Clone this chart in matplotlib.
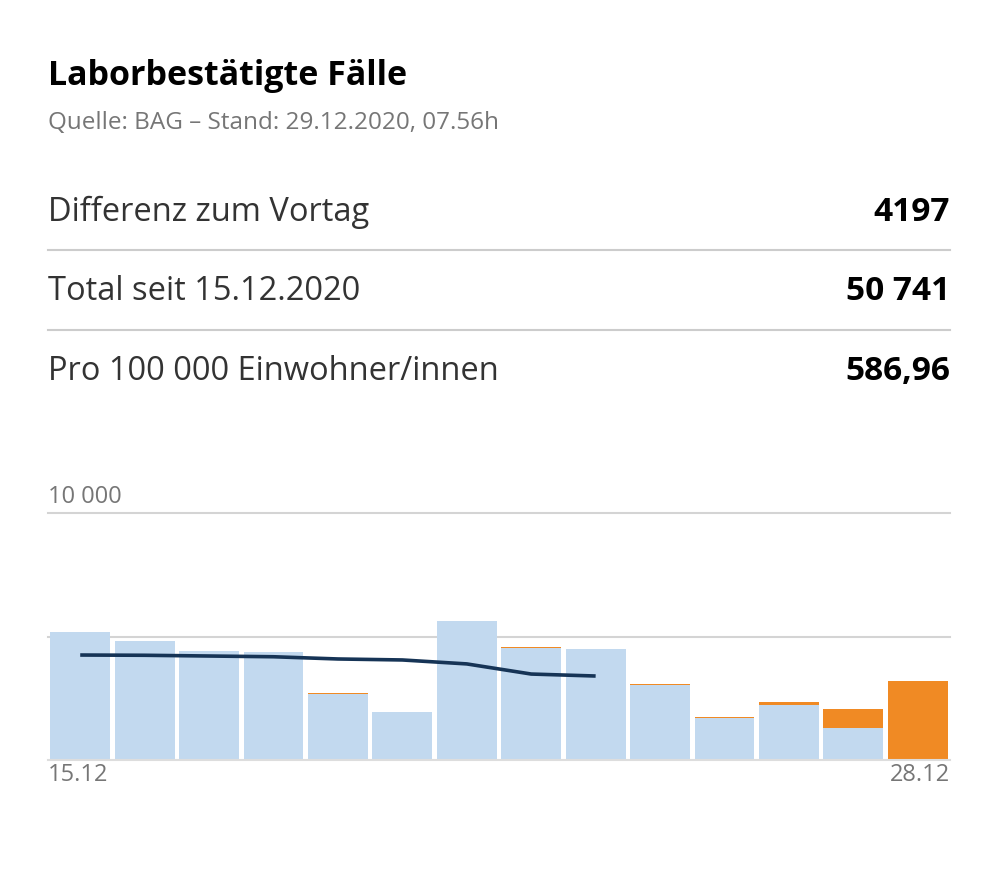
import numpy as np
import matplotlib.pyplot as plt

plt.rcParams['font.family'] = ['Open Sans', 'DejaVu Sans']

# Daten
tage = ['15.12', '16.12', '17.12', '18.12', '19.12', '20.12', '21.12',
        '22.12', '23.12', '24.12', '25.12', '26.12', '27.12', '28.12']
bisher = [5180, 4820, 4410, 4370, 2680, 1940, 5630, 4540, 4490, 3050, 1710, 2230, 1300, 0]
neu = [0, 0, 0, 0, 40, 0, 0, 40, 0, 40, 40, 130, 770, 3200]
mittel7 = [4250, 4240, 4210, 4180, 4090, 4050, 3890, 3480, 3400]

kennzahlen = [('Differenz zum Vortag', '4197'),
              ('Total seit 15.12.2020', '50 741'),
              ('Pro 100 000 Einwohner/innen', '586,96')]

fig = plt.figure(figsize=(10, 8.8), dpi=100)

def fy(py):
    return 1 - py / 880

grau = '#767676'
fig.text(0.048, fy(76), 'Laborbestätigte Fälle', fontsize=24.5, fontweight='bold',
         color='black', va='center')
fig.text(0.048, fy(123), 'Quelle: BAG – Stand: 29.12.2020, 07.56h', fontsize=17.5,
         color=grau, va='center')

zeilen_y = [212, 292, 371]
for (lab, wert), y in zip(kennzahlen, zeilen_y):
    fig.text(0.048, fy(y), lab, fontsize=23.5, color='#333333', va='center')
    fig.text(0.95, fy(y), wert, fontsize=24, fontweight='bold', color='black',
             va='center', ha='right')
for y in [250, 330]:
    fig.add_artist(plt.Line2D([0.048, 0.95], [fy(y), fy(y)], color='#cccccc', lw=1.5))

ax = fig.add_axes([0.048, fy(760), 0.902, fy(513) - fy(760)])
x = np.arange(len(tage))
for g in [5000, 10000]:
    ax.axhline(g, color='#d4d4d4', lw=1.5, zorder=0, clip_on=False)
ax.axhline(0, color='#dddddd', lw=1.5, zorder=3, clip_on=False)
ax.bar(x, bisher, width=0.93, color='#c2d9ef', zorder=1)
ax.bar(x, neu, width=0.93, bottom=bisher, color='#f08a24', zorder=1)
ax.plot(x[:len(mittel7)], mittel7, color='#163456', lw=2.6, zorder=2,
        solid_capstyle='butt')
ax.set_xlim(-0.5, len(tage) - 0.5)
ax.set_ylim(0, 10000)
ax.axis('off')

fig.text(0.048, fy(497), '10 000', fontsize=17, color=grau, va='center')
fig.text(0.048, fy(775), tage[0], fontsize=17, color=grau, va='center')
fig.text(0.95, fy(775), tage[-1], fontsize=17, color=grau, va='center', ha='right')

fig.savefig('out.png', dpi=100, facecolor='white')
